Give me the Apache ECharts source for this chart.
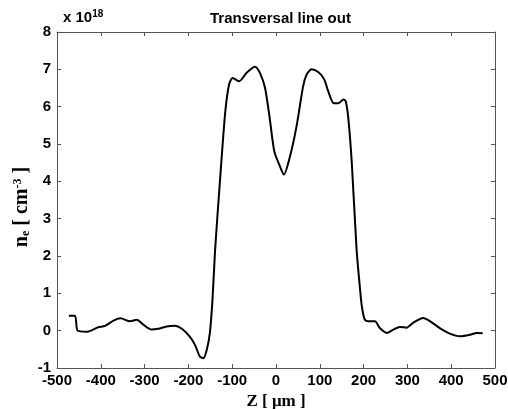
<!DOCTYPE html>
<html><head><meta charset="utf-8">
<script src="https://cdn.jsdelivr.net/npm/echarts@6/dist/echarts.min.js"></script>
<style>html,body{margin:0;padding:0;background:#fff}#c{width:508px;height:409px}</style>
</head><body><div id="c"></div>
<script>
const zPositions = [-473,-459,-453,-432,-406,-390,-371,-355,-333,-318,-303,-284,-269,-250,-231,-215,-196,-185,-174,-166,-158,-151,-145,-139,-128,-116,-107,-99,-84,-67,-48,-37,-25,-14,-4,9,18,32,47,62,70,81,97,110,119,132,142,154,159,165,173,184,192,196,203,215,226,237,253,268,283,298,313,336,352,374,397,420,443,458,472];
const densityValues = [0.40,0.40,0.00,-0.03,0.09,0.13,0.27,0.33,0.25,0.29,0.16,0.03,0.05,0.11,0.13,0.05,-0.17,-0.38,-0.69,-0.74,-0.51,-0.06,0.83,2.17,4.0,5.84,6.6,6.77,6.68,6.91,7.07,6.91,6.5,5.66,4.81,4.40,4.18,4.67,5.48,6.55,6.86,7.0,6.92,6.73,6.42,6.09,6.09,6.19,6.15,5.7,4.5,2.17,1.1,0.65,0.29,0.25,0.25,0.07,-0.06,0.03,0.10,0.08,0.21,0.34,0.25,0.07,-0.08,-0.15,-0.11,-0.06,-0.07];
const xTicks = [-500,-400,-300,-200,-100,0,100,200,300,400,500];
const yTicks = [-1,0,1,2,3,4,5,6,7,8];

const chart = echarts.init(document.getElementById('c'));
const axisCol = '#555';
const sans = 'Liberation Sans, Arial, sans-serif';
const serif = 'Liberation Serif, Times New Roman, serif';
const tickFont = {fontFamily:sans, fontWeight:'bold', fontSize:15, color:'#000'};
chart.setOption({
  animation:false,
  title:{text:'Transversal line out', left:205, top:6,
    textStyle:{fontFamily:sans, fontWeight:'bold', fontSize:15, color:'#000'}},
  graphic:[{type:'text', left:63, top:9, style:{
    text:'{a|x 10}{s|18}', rich:{a:{fontFamily:sans, fontWeight:'bold', fontSize:15, fill:'#000'},
      s:{fontFamily:sans, fontWeight:'bold', fontSize:10, fill:'#000', verticalAlign:'top', padding:[0,0,7,0]}}}}],
  grid:{left:57, top:32, right:13, bottom:41, containLabel:false, outerBoundsMode:'none'},
  xAxis:[{type:'value', min:xTicks[0], max:xTicks[xTicks.length-1], interval:100, position:'bottom',
    name:'Z [ μm ]', nameLocation:'middle', nameGap:18,
    nameTextStyle:{fontFamily:serif, fontWeight:'bold', fontSize:17, color:'#000'},
    axisLine:{onZero:false, lineStyle:{color:axisCol, width:1}},
    axisTick:{inside:true, length:4, lineStyle:{color:axisCol}},
    axisLabel:Object.assign({margin:5}, tickFont),
    splitLine:{show:false}},
   {type:'value', min:xTicks[0], max:xTicks[xTicks.length-1], interval:100, position:'top',
    axisLine:{onZero:false, lineStyle:{color:axisCol, width:1}},
    axisTick:{inside:true, length:4, lineStyle:{color:axisCol}},
    axisLabel:{show:false}, splitLine:{show:false}}],
  yAxis:[{type:'value', min:yTicks[0], max:yTicks[yTicks.length-1], interval:1, position:'left',
    name:'{a|n}{sub|e}{a| [ cm}{sup|-3}{a| ]}', nameLocation:'middle', nameGap:25, nameRotate:90,
    nameMoveOverlap:false,
    nameTextStyle:{padding:[0,14,0,0], rich:{
      a:{fontFamily:serif, fontWeight:'bold', fontSize:20, color:'#000'},
      sub:{fontFamily:serif, fontWeight:'bold', fontSize:12, color:'#000', verticalAlign:'bottom', padding:[8,0,0,0]},
      sup:{fontFamily:serif, fontWeight:'bold', fontSize:12, color:'#000', verticalAlign:'top', padding:[0,0,8,0]}}},
    axisLine:{onZero:false, lineStyle:{color:axisCol, width:1}},
    axisTick:{inside:true, length:4, lineStyle:{color:axisCol}},
    axisLabel:Object.assign({margin:6}, tickFont),
    splitLine:{show:false}},
   {type:'value', min:yTicks[0], max:yTicks[yTicks.length-1], interval:1, position:'right',
    axisLine:{onZero:false, lineStyle:{color:axisCol, width:1}},
    axisTick:{inside:true, length:4, lineStyle:{color:axisCol}},
    axisLabel:{show:false}, splitLine:{show:false}}],
  series:[{type:'line', data:zPositions.map((z,i)=>[z, densityValues[i]]), showSymbol:false, smooth:0.25,
    lineStyle:{color:'#000', width:2}, xAxisIndex:0, yAxisIndex:0}]
});
</script></body></html>
